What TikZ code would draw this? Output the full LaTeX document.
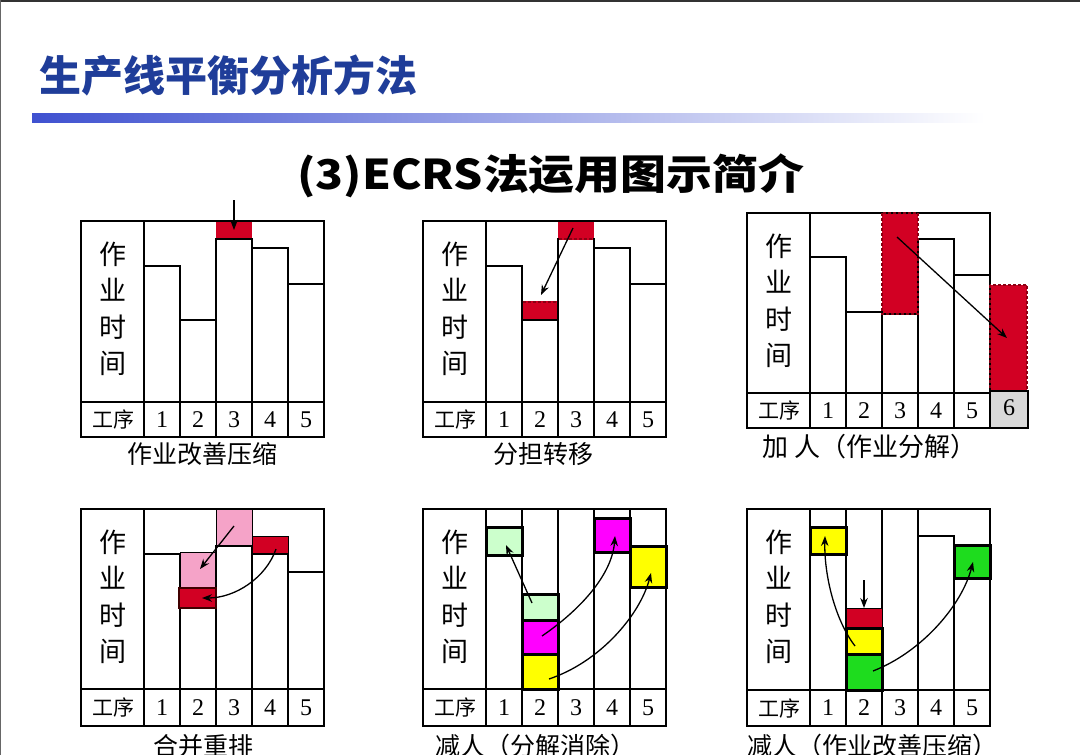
\documentclass[tikz,border=0pt]{standalone}
\usepackage{fontspec}
\usepackage{graphicx}
\usetikzlibrary{arrows.meta}
\setmainfont{Liberation Serif}
\newfontfamily\cjk{Noto Sans CJK SC}
\definecolor{tblue}{RGB}{31,61,153}
\definecolor{bar1}{RGB}{63,81,208}
\definecolor{mred}{RGB}{210,0,35}
\definecolor{dred}{RGB}{140,0,20}
\definecolor{mpink}{RGB}{245,163,200}
\definecolor{lgreen}{RGB}{204,255,204}
\definecolor{mmag}{RGB}{255,0,255}
\definecolor{myel}{RGB}{255,255,0}
\definecolor{mgreen}{RGB}{30,220,30}
\definecolor{lgray}{RGB}{217,217,217}
\newcommand{\pnl}[5]{%
  \draw[frame] (#2,#3) rectangle ({#2+243},#5);
  \draw[frame] (#2,#4) -- ({#2+243},#4);
  \draw[frame] ({#2+63},#3) -- ({#2+63},#5);
  \node[vlab] (#1v) at ({#2+32},{#3+88}) {作\\业\\时\\间};
  \node[rowlab] (#1g) at ({#2+32},{(#4+#5)/2}) {工序};
  \foreach \k in {1,...,5} {\node[num] (#1n\k) at ({#2+45+36*\k},{(#4+#5)/2}) {\k};}
  \foreach \k in {1,...,4} {\draw[frame] ({#2+63+36*\k},#4) -- ({#2+63+36*\k},#5);}
}
\begin{document}
\begin{tikzpicture}[x=1pt,y=-1pt,
  frame/.style={draw=black,line width=1.3pt},
  tbox/.style={draw=black,line width=1pt},
  kbox/.style={draw=black,line width=3pt},
  rdash/.style={draw=dred,line width=1.1pt,dash pattern=on 3pt off 2pt},
  arr/.style={-{Stealth[length=10pt,width=7.5pt]},line width=1.3pt,draw=black},
  vlab/.style={font=\cjk\fontsize{27}{36.5}\selectfont,align=center,inner sep=0pt},
  rowlab/.style={font=\cjk\fontsize{21}{21}\selectfont,inner sep=0pt},
  num/.style={font=\fontsize{24}{24}\selectfont,inner sep=0pt},
  captxt/.style={font=\cjk\fontsize{25}{25}\selectfont,inner sep=0pt}]
\useasboundingbox (0,0) rectangle (1080,755);
\clip (0,0) rectangle (1080,755);
\fill[white] (0,0) rectangle (1080,755);
\fill[black!80] (0,0) rectangle (1080,2);
\fill[black!60] (0,0) rectangle (1.2,755);
% title
\node[anchor=west,text=tblue,font=\cjk\bfseries\fontsize{42}{42}\selectfont,inner sep=0pt] (title) at (39,75) {生产线平衡分析方法};
\shade[left color=bar1,right color=white] (32,113) rectangle (985,122);
\node[font=\cjk\bfseries\fontsize{41}{41}\selectfont,inner sep=0pt] (sub) at (551,176) {\scalebox{1.12}[1]{(3)ECRS法运用图示简介}};

% ---------- panel 1
\fill[mred] (216,221) rectangle (252,239);
\draw[frame] (144,266) rectangle (180,402);
\draw[frame] (180,320) rectangle (216,402);
\draw[frame] (216,239) rectangle (252,402);
\draw[frame] (252,248) rectangle (288,402);
\draw[frame] (288,284) rectangle (324,402);
\pnl{a}{81}{221}{402}{437}
\coordinate (a1s) at (234,200);
\coordinate (a1e) at (234,230);
\draw[arr] (a1s) -- (a1e);
\node[captxt] (acap) at (202,454) {作业改善压缩};

% ---------- panel 2
\fill[mred] (522,302) rectangle (558,320);
\fill[mred] (558,221) rectangle (594,239);
\draw[frame] (486,266) rectangle (522,402);
\draw[frame] (522,320) rectangle (558,402);
\draw[frame] (558,239) rectangle (594,402);
\draw[frame] (594,248) rectangle (630,402);
\draw[frame] (630,284) rectangle (666,402);
\pnl{b}{423}{221}{402}{437}
\draw[mred,line width=1.3pt] (522.7,302) -- (557.3,302);
\draw[rdash] (522.7,302) -- (557.3,302);
\draw[mred,line width=1.3pt] (558.7,239) -- (593.3,239);
\draw[rdash] (558.7,239) -- (593.3,239);
\coordinate (b1s) at (573,228);
\coordinate (b1e) at (541,295);
\draw[arr] (b1s) -- (b1e);
\node[captxt] (bcap) at (543,454) {分担转移};

% ---------- panel 3
\fill[mred] (882,213) rectangle (918,314);
\fill[mred] (990,285) rectangle (1027,391);
\draw[frame] (810,257) rectangle (846,393);
\draw[frame] (846,312) rectangle (882,393);
\draw[frame] (882,314) rectangle (918,393);
\draw[frame] (918,239) rectangle (954,393);
\draw[frame] (954,275) rectangle (990,393);
\pnl{c}{747}{213}{393}{428}
\draw[rdash] (882,213) rectangle (918,314);
\draw[rdash] (990,285) rectangle (1027,391);
\draw[frame,fill=lgray] (990,391) rectangle (1028,428);
\node[num] (cn6) at (1009,408) {6};
\coordinate (c1s) at (897,237);
\coordinate (c1e) at (1007,338);
\draw[arr] (c1s) -- (c1e);
\node[captxt,anchor=west,font=\cjk\fontsize{26}{26}\selectfont] (ccap) at (762,447) {加\hspace{6pt}人（作业分解）};

% ---------- panel 4
\draw[tbox,fill=mpink] (216,509) rectangle (252,546);
\draw[tbox,fill=mpink] (180,552) rectangle (216,588);
\draw[tbox,fill=mred] (252,536) rectangle (288,554);
\draw[frame] (144,554) rectangle (180,689);
\draw[frame] (180,608) rectangle (216,689);
\draw[frame] (216,546) rectangle (252,689);
\draw[frame] (252,554) rectangle (288,689);
\draw[frame] (288,572) rectangle (324,689);
\draw[draw=black!75!red,line width=2.2pt,fill=mred] (179,588) rectangle (216,608);
\pnl{d}{81}{509}{689}{726}
\coordinate (d1s) at (234,526);
\coordinate (d1e) at (200,569);
\draw[arr] (d1s) -- (d1e);
\coordinate (d2s) at (276,549);
\coordinate (d2e) at (202,598);
\draw[arr] (d2s) .. controls (266,578) and (235,598) .. (d2e);
\node[captxt] (dcap) at (203,746) {合并重排};

% ---------- panel 5
\foreach \xx in {522,558,594,630} {\draw[frame] (\xx,509) -- (\xx,689);}
\pnl{e}{423}{509}{689}{726}
\draw[kbox,fill=lgreen] (486,527) rectangle (522,555);
\draw[kbox,fill=myel] (522,654) rectangle (558,689);
\draw[kbox,fill=mmag] (522,620) rectangle (558,654);
\draw[kbox,fill=lgreen] (522,594) rectangle (558,620);
\draw[kbox,fill=mmag] (594,518) rectangle (630,552);
\draw[kbox,fill=myel] (630,546) rectangle (666,587);
\coordinate (e1s) at (532,603);
\coordinate (e1e) at (506,545);
\draw[arr] (e1s) -- (e1e);
\coordinate (e2s) at (542,636);
\coordinate (e2e) at (615,536);
\draw[arr] (e2s) .. controls (580,610) and (612,575) .. (e2e);
\coordinate (e3s) at (549,679);
\coordinate (e3e) at (651,573);
\draw[arr] (e3s) .. controls (600,662) and (640,615) .. (e3e);
\node[captxt] (ecap) at (535,746) {减人（分解消除）};

% ---------- panel 6
\foreach \xx in {846,882,918} {\draw[frame] (\xx,509) -- (\xx,690);}
\draw[frame] (918,536) rectangle (954,690);
\pnl{f}{747}{509}{690}{726}
\draw[tbox,fill=mred] (846,608) rectangle (882,628);
\draw[kbox,fill=myel] (810,527) rectangle (846,554);
\draw[kbox,fill=mgreen] (846,654) rectangle (882,690);
\draw[kbox,fill=myel] (846,628) rectangle (882,654);
\draw[kbox,fill=mgreen] (954,545) rectangle (990,578);
\coordinate (f1s) at (864,580);
\coordinate (f1e) at (864,608);
\draw[arr] (f1s) -- (f1e);
\coordinate (f2s) at (855,646);
\coordinate (f2e) at (825,536);
\draw[arr] (f2s) .. controls (835,620) and (824,575) .. (f2e);
\coordinate (f3s) at (873,671);
\coordinate (f3e) at (973,562);
\draw[arr] (f3s) .. controls (922,652) and (962,605) .. (f3e);
\node[captxt,anchor=west] (fcap) at (747,746) {减人（作业改善压缩）};
\end{tikzpicture}
\end{document}
